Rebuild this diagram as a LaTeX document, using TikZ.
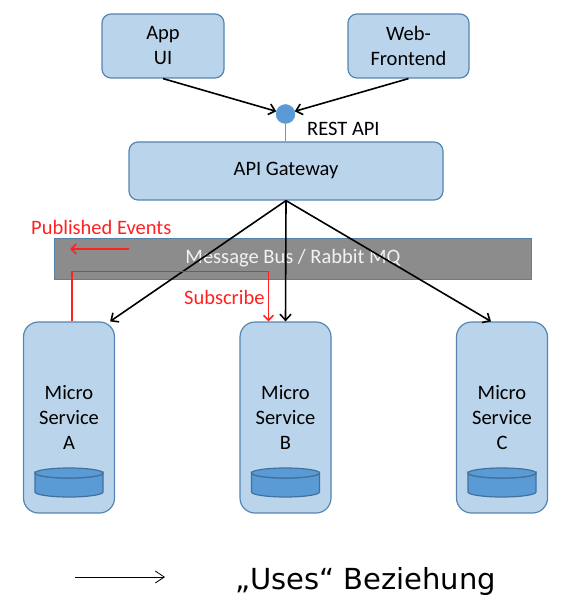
\documentclass[tikz,border=0pt]{standalone}
\usepackage{fontspec}
\setmainfont{Carlito}
\newfontfamily\legendfont{DejaVu Sans}
\usetikzlibrary{arrows.meta}
\definecolor{boxfill}{HTML}{BAD5EB}
\definecolor{boxline}{HTML}{5585B0}
\definecolor{accent}{HTML}{5B9BD5}
\definecolor{dbline}{HTML}{41719C}
\definecolor{busfill}{HTML}{8C8C8C}
\definecolor{busline}{HTML}{5580A8}
\definecolor{evred}{HTML}{FF2020}
\tikzset{
  box/.style={draw=boxline, fill=boxfill, line width=1.2pt, rounded corners=9pt, inner sep=0pt, align=center, font=\fontsize{20.5}{25}\selectfont},
  svc/.style={box, rounded corners=15pt, minimum width=91pt, minimum height=191pt},
  uses/.style={draw=black, line width=1.6pt, -{Straight Barb[length=6pt,width=11pt,line width=1.6pt]}},
  evline/.style={draw=evred, line width=1.6pt},
  evarrow/.style={evline, -{Straight Barb[length=5pt,width=10pt,line width=1.6pt]}},
  evtext/.style={text=evred, font=\fontsize{20.5}{24}\selectfont, inner sep=0pt, anchor=west},
  dbstyle/.style={draw=dbline, fill=accent, line width=1.2pt}
}
\newcommand{\dbcyl}[2]{%
  \draw[dbstyle] (#1-34,473) -- (#1-34,492) arc[start angle=180,end angle=360,x radius=34pt,y radius=5pt] -- (#1+34,473) arc[start angle=0,end angle=-180,x radius=34pt,y radius=5pt] -- cycle;
  \draw[dbstyle] (#1,473) ellipse[x radius=34pt,y radius=5pt];
  \coordinate (#2) at (#1,483);
}
\begin{document}
\begin{tikzpicture}[x=1pt,y=-1pt]
\useasboundingbox (0,0) rectangle (570,612);
% top clients
\node[box, minimum width=122pt, minimum height=64pt] (app) at (163,46) {App\\UI};
\node[box, minimum width=121pt, minimum height=64pt] (web) at (408.5,46) {Web-\\Frontend};
% gateway
\node[box, minimum width=314pt, minimum height=58pt] (gw) at (286,171) {API Gateway};
\node[circle, fill=accent, draw=accent, minimum size=19pt, inner sep=0pt] (rest) at (285.5,114) {};
\draw[accent, line width=1.6pt] (rest) -- (rest |- gw.north);
\node[font=\fontsize{20.5}{24}\selectfont, inner sep=0pt, anchor=west] (restlbl) at (307,129) {REST API};
% bus
\node[draw=busline, fill=busfill, line width=1pt, minimum width=477pt, minimum height=41pt, inner sep=0pt, text=white!95!black, font=\fontsize{20.5}{24}\selectfont] (bus) at (293,258.5) {Message Bus / Rabbit MQ};
% services
\node[svc] (svcA) at (69,417.5) {Micro\\Service\\A};
\node[svc] (svcB) at (285.5,417.5) {Micro\\Service\\B};
\node[svc] (svcC) at (502,417.5) {Micro\\Service\\C};
\dbcyl{69}{dbA}
\dbcyl{285.5}{dbB}
\dbcyl{502}{dbC}
% uses arrows
\draw[uses] (app.south) -- (rest);
\draw[uses] (web.south) -- (rest);
\draw[uses] (gw.south) -- ([xshift=-5pt]svcA.north east);
\draw[uses] (gw.south) -- (svcB.north);
\draw[uses] (gw.south) -- ([xshift=-11pt]svcC.north);
% events
\node[evtext] (pubtxt) at (31,227) {Published Events};
\coordinate (pe1) at (129,249);
\coordinate (pe2) at (70,249);
\draw[evarrow] (pe1) -- (pe2);
\draw[evarrow, line join=miter] ([xshift=3pt]svcA.north) -- ++(0,-50) -| ([xshift=-17pt]svcB.north);
\node[evtext] (subtxt) at (184,297) {Subscribe};
% legend
\coordinate (lg1) at (75,577);
\coordinate (lg2) at (165,577);
\draw[line width=0.8pt, -{Straight Barb[length=9pt,width=12pt,line width=0.8pt]}] (lg1) -- (lg2);
\node[font=\legendfont\fontsize{29}{34}\selectfont, inner sep=0pt, anchor=west] (legtxt) at (235,581) {„Uses“ Beziehung};
\end{tikzpicture}
\end{document}
